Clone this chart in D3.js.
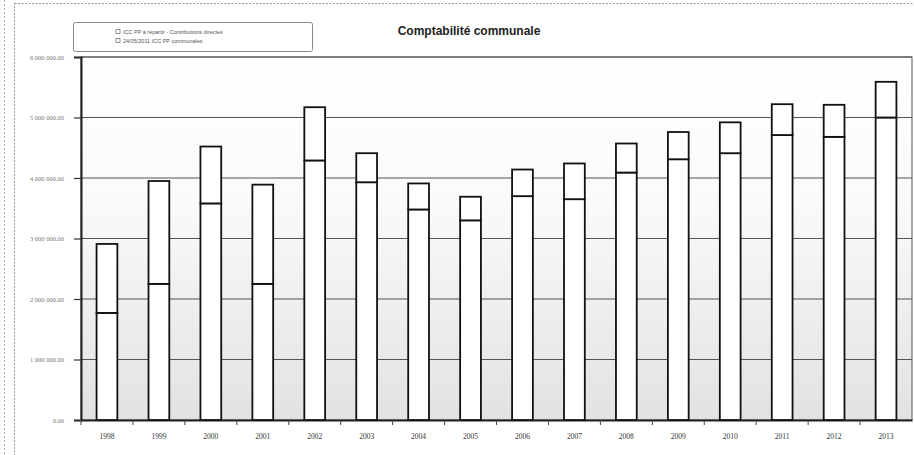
<!DOCTYPE html>
<html><head><meta charset="utf-8">
<script src="https://cdn.jsdelivr.net/npm/d3@7"></script>
<style>
html,body{margin:0;padding:0;background:#fff;}
svg{display:block;}
</style></head>
<body>
<svg id="c" width="914" height="455"></svg>
<script>
const years = ["1998","1999","2000","2001","2002","2003","2004","2005","2006","2007","2008","2009","2010","2011","2012","2013"];
const baseValues = [1770000,2250000,3580000,2250000,4290000,3930000,3480000,3300000,3700000,3650000,4090000,4310000,4410000,4710000,4680000,5000000];
const totalValues = [2910000,3950000,4520000,3890000,5170000,4410000,3910000,3690000,4140000,4240000,4570000,4760000,4920000,5220000,5210000,5590000];
const seriesNames = ["ICC PP à répartir - Contributions directes","24/05/2011 ICC PP communales"];
const yTicks = [0,1000000,2000000,3000000,4000000,5000000,6000000];
const title = "Comptabilité communale";

const svg = d3.select("#c");
const W = 914, H = 455;
const m = {l:81, r:912, t:57, b:420};

const defs = svg.append("defs");
const g = defs.append("linearGradient").attr("id","bg").attr("x1",0).attr("y1",0).attr("x2",0).attr("y2",1);
g.append("stop").attr("offset","0%").attr("stop-color","#ffffff");
g.append("stop").attr("offset","40%").attr("stop-color","#fafafa");
g.append("stop").attr("offset","100%").attr("stop-color","#e2e2e2");

// outer frames
svg.append("line").attr("x1",4.5).attr("x2",4.5).attr("y1",0).attr("y2",455)
  .attr("stroke","#aaa").attr("stroke-width",1).attr("stroke-dasharray","2,2");
svg.append("rect").attr("x",14.5).attr("y",3.5).attr("width",W).attr("height",H)
  .attr("fill","none").attr("stroke","#999").attr("stroke-width",1).attr("stroke-dasharray","2,1.5");

const x = d3.scaleBand().domain(years).range([m.l, m.r]).paddingInner(0.6).paddingOuter(0.3);
const y = d3.scaleLinear().domain([0,6000000]).range([m.b, m.t]);

// plot background
svg.append("rect").attr("x",m.l).attr("y",m.t).attr("width",m.r-m.l).attr("height",m.b-m.t)
  .attr("fill","url(#bg)").attr("stroke","#555").attr("stroke-width",1);

// gridlines
svg.append("g").selectAll("line").data(yTicks.slice(1)).join("line")
  .attr("x1",m.l).attr("x2",m.r).attr("y1",d=>y(d)).attr("y2",d=>y(d))
  .attr("stroke","#555").attr("stroke-width",1.2);

const loc = d3.formatLocale({thousands:" ",decimal:".",grouping:[3],currency:["",""]});
const fmt = loc.format(",.2f");

// y axis
const ya = svg.append("g").attr("transform",`translate(${m.l},0)`)
  .call(d3.axisLeft(y).tickValues(yTicks).tickFormat(fmt).tickSize(7).tickPadding(10));
ya.select(".domain").attr("stroke","#222").attr("stroke-width",2);
ya.selectAll(".tick line").attr("stroke","#333").attr("stroke-width",1.2);
ya.selectAll("text").attr("font-family","Liberation Serif, serif").attr("font-size",6.5).attr("fill","#777");

// x axis
const xa = svg.append("g").attr("transform",`translate(0,${m.b})`)
  .call(d3.axisBottom(x).tickSize(0).tickPadding(14));
xa.select(".domain").attr("stroke","#222").attr("stroke-width",2);
xa.selectAll("text").attr("font-family","Liberation Serif, serif").attr("font-size",7.5).attr("fill","#333");
// tick marks at category boundaries
const step = x.step();
svg.append("g").selectAll("line").data(years).join("line")
  .attr("x1",d=>x(d)-x.paddingOuter()*step).attr("x2",d=>x(d)-x.paddingOuter()*step)
  .attr("y1",m.b).attr("y2",m.b+5).attr("stroke","#444").attr("stroke-width",1);

// bars
const bars = svg.append("g");
bars.selectAll("rect.base").data(years).join("rect").attr("class","base")
  .attr("x",d=>x(d)).attr("width",x.bandwidth())
  .attr("y",(d,i)=>y(baseValues[i])).attr("height",(d,i)=>y(0)-y(baseValues[i]))
  .attr("fill","#fff").attr("stroke","#111").attr("stroke-width",1.8);
bars.selectAll("rect.top").data(years).join("rect").attr("class","top")
  .attr("x",d=>x(d)).attr("width",x.bandwidth())
  .attr("y",(d,i)=>y(totalValues[i])).attr("height",(d,i)=>y(baseValues[i])-y(totalValues[i]))
  .attr("fill","#fff").attr("stroke","#111").attr("stroke-width",1.8);

// title
svg.append("text").attr("x",469).attr("y",35).attr("text-anchor","middle")
  .attr("font-family","Liberation Sans, Arial, sans-serif").attr("font-weight","bold").attr("font-size",12)
  .attr("fill","#222").text(title);

// legend
svg.append("rect").attr("x",73.5).attr("y",22.5).attr("width",239).attr("height",29).attr("rx",2)
  .attr("fill","#fff").attr("stroke","#888").attr("stroke-width",1);
const lg = svg.append("g");
seriesNames.forEach((s,i)=>{
  const yy = 33 + i*9;
  lg.append("rect").attr("x",116).attr("y",yy-3.5).attr("width",4).attr("height",4)
    .attr("fill","#fff").attr("stroke","#666").attr("stroke-width",0.7);
  lg.append("text").attr("x",123).attr("y",yy+1).attr("font-family","Liberation Sans, Arial, sans-serif")
    .attr("font-size",5.5).attr("fill","#555").text(s);
});
</script>
</body></html>
